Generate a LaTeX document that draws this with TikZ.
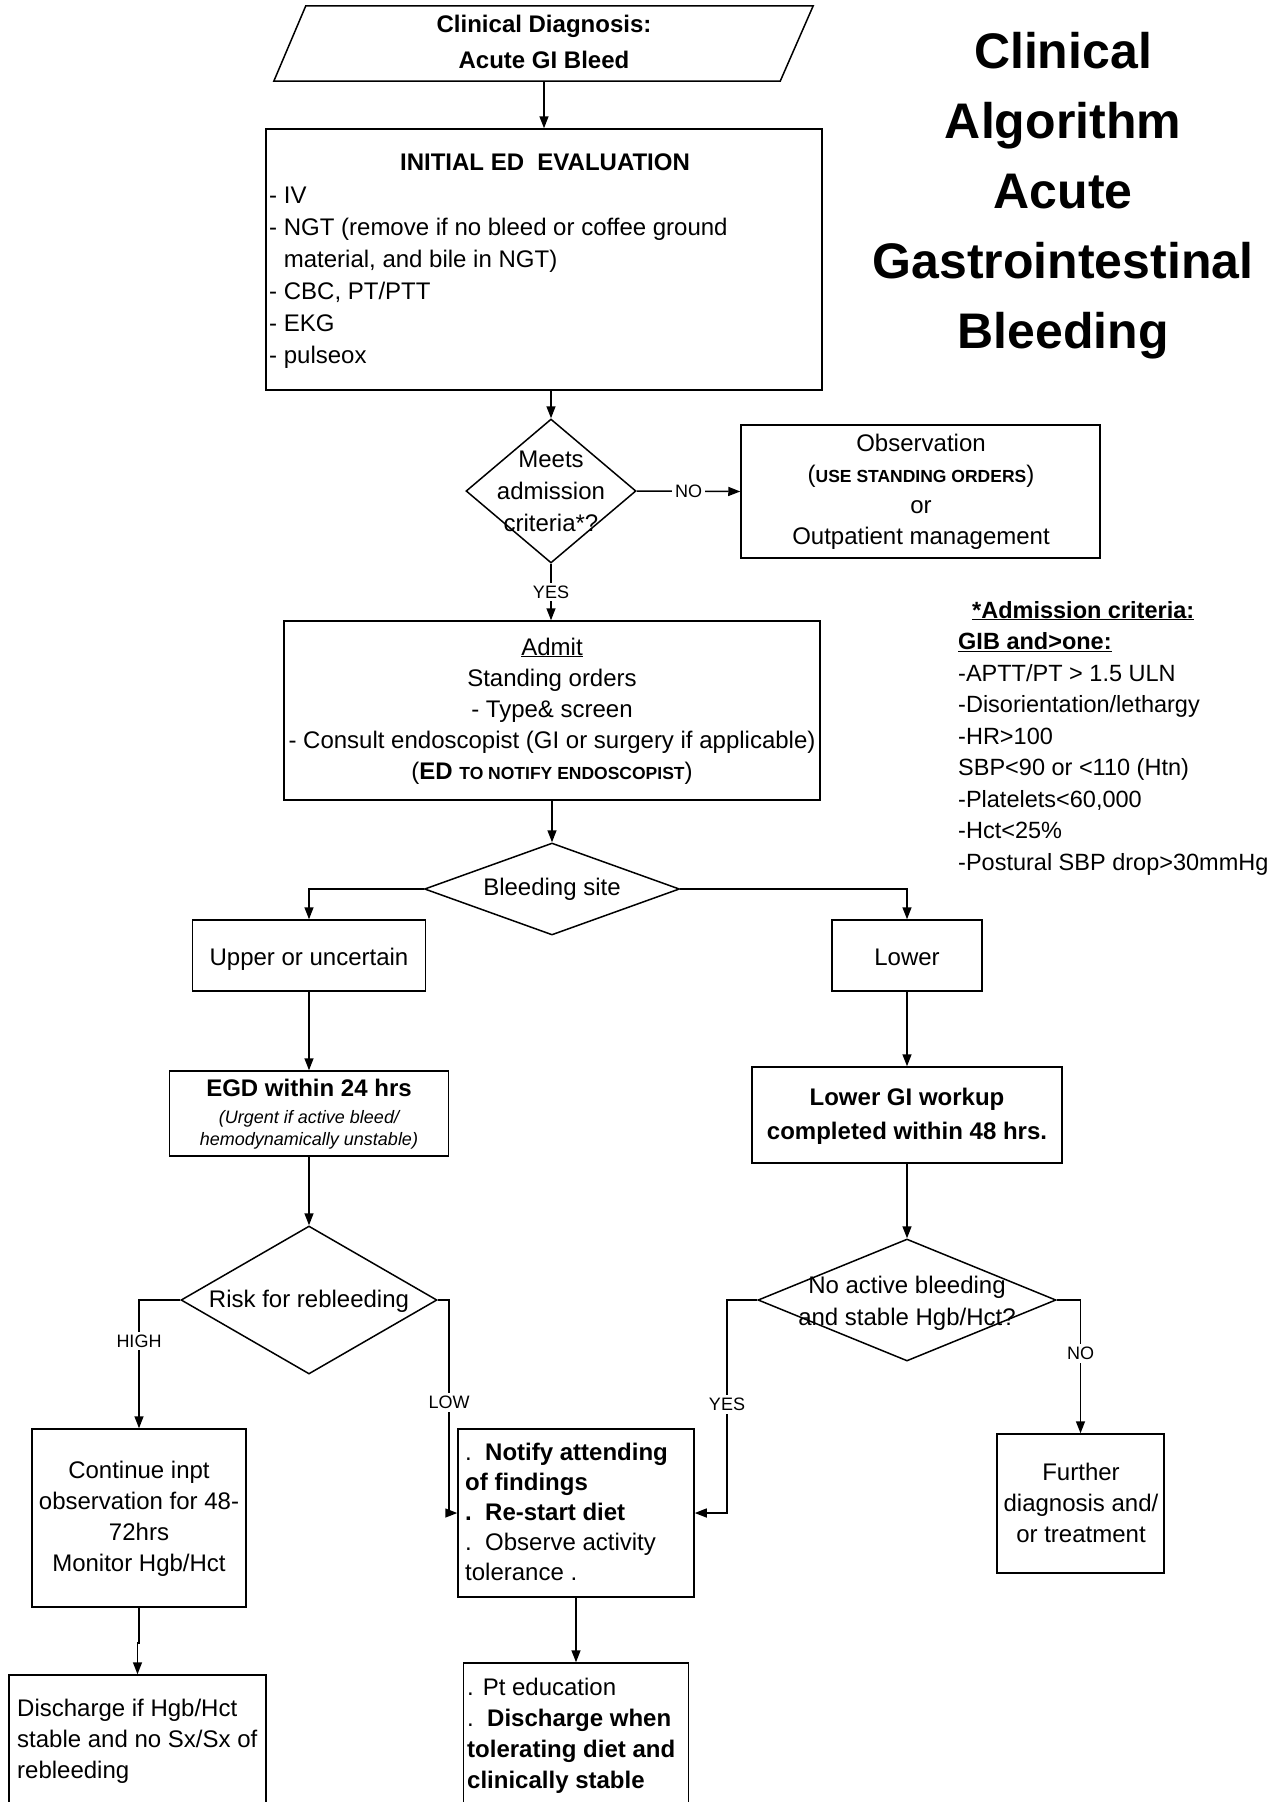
\documentclass[tikz,border=0pt]{standalone}
\usepackage{fontspec}
\setmainfont{Liberation Sans}
\usetikzlibrary{shapes.geometric,arrows.meta,calc}
\begin{document}
\begin{tikzpicture}[x=1pt,y=-1pt,
  bx/.style={draw, rectangle, line width=1.5pt, inner sep=0pt},
  dmd/.style={draw, diamond, line width=1.5pt, inner sep=0pt},
  tc/.style={inner sep=0pt, anchor=base, align=center, font=\fontsize{24}{31}\selectfont},
  tlft/.style={inner sep=0pt, anchor=base west, align=left, font=\fontsize{24}{31}\selectfont},
  lbl/.style={fill=white, inner xsep=3pt, inner ysep=3pt, font=\fontsize{18}{20}\selectfont},
  conn/.style={line width=1.5pt, -{Triangle[length=12pt,width=9pt]}}]
\useasboundingbox (0,0) rectangle (1284,1802);
\fill[white] (0,0) rectangle (1284,1802);
\clip (0,0) rectangle (1284,1802);

% ---------- shapes ----------
\node[minimum width=539pt, minimum height=75pt, inner sep=0pt] (start) at (543.5,43.5) {};
\draw[line width=1.5pt] ($(start.north west)+(32,0)$) -- (start.north east)
  -- ($(start.south east)+(-33,0)$) -- (start.south west) -- cycle;
\node[bx, minimum width=556pt, minimum height=261pt] (init) at (544,259.5) {};
\node[dmd, minimum width=170pt, minimum height=144pt] (meets) at (551,491) {};
\node[bx, minimum width=359pt, minimum height=133pt] (obs) at (920.5,491.5) {};
\node[bx, minimum width=536pt, minimum height=179pt] (admit) at (552,710.5) {};
\node[dmd, minimum width=255pt, minimum height=92pt] (bleed) at (552,889) {};
\node[bx, minimum width=233pt, minimum height=71pt] (upper) at (309,955.5) {};
\node[bx, minimum width=150pt, minimum height=71pt] (lower) at (907,955.5) {};
\node[bx, minimum width=279pt, minimum height=85pt] (egd) at (309,1113.5) {};
\node[bx, minimum width=310pt, minimum height=96pt] (lgi) at (907,1115) {};
\node[dmd, minimum width=256pt, minimum height=148pt] (risk) at (309,1300) {};
\node[dmd, minimum width=298pt, minimum height=122pt] (nab) at (907,1300) {};
\node[bx, minimum width=214pt, minimum height=178pt] (cont) at (139,1518) {};
\node[bx, minimum width=236pt, minimum height=168pt] (notify) at (576,1513) {};
\node[bx, minimum width=167pt, minimum height=139pt] (further) at (1080.5,1503.5) {};
\node[bx, minimum width=257pt, minimum height=155pt] (disc) at (137.5,1752.5) {};
\node[bx, minimum width=225pt, minimum height=167pt] (pt) at (576,1746.5) {};

% ---------- texts (multi-line nodes are placed at the baseline of their last line) ----------
\node[tc, font=\fontsize{24}{36}\selectfont\bfseries] (tstart) at (544,68) {Clinical Diagnosis:\\Acute GI Bleed};
\node[tc, font=\fontsize{50}{70}\selectfont\bfseries] (title) at (1063,348) {Clinical\\Algorithm\\Acute\\Gastrointestinal\\Bleeding};
\node[tc, font=\fontsize{24}{31}\selectfont\bfseries] (tinit) at (545,170) {INITIAL ED\ \ EVALUATION};
\node[tlft, font=\fontsize{24}{32}\selectfont] (tinitl) at (269,363) {- IV\\- NGT (remove if no bleed or coffee ground\\\phantom{- }material, and bile in NGT)\\- CBC, PT/PTT\\- EKG\\- pulseox};
\node[tc, font=\fontsize{24}{32}\selectfont] (tmeets) at (551,531) {Meets\\admission\\criteria*?};
\node[tc] (tobs) at (921,544) {Observation\\({\bfseries\fontsize{17.5}{20}\selectfont USE STANDING ORDERS})\\or\\Outpatient management};
\node[tc] (tadmit) at (552,779) {\underline{Admit}\\Standing orders\\- Type\& screen\\- Consult endoscopist (GI or surgery if applicable)\\(\textbf{ED} {\bfseries\fontsize{17.5}{20}\selectfont TO NOTIFY ENDOSCOPIST})};
\node[tlft, font=\fontsize{23.5}{31.5}\selectfont] (tcrit) at (958,870) {\hspace*{14pt}\textbf{\underline{*Admission criteria:}}\\\textbf{\underline{GIB and>one:}}\\-APTT/PT > 1.5 ULN\\-Disorientation/lethargy\\-HR>100\\SBP<90 or <110 (Htn)\\-Platelets<60,000\\-Hct<25\%\\-Postural SBP drop>30mmHg};
\node[tc] (tbleed) at (552,895) {Bleeding site};
\node[tc] (tupper) at (309,965) {Upper or uncertain};
\node[tc] (tlower) at (907,965) {Lower};
\node[tc, font=\fontsize{24}{31}\selectfont\bfseries] (tegd) at (309,1096) {EGD within 24 hrs};
\node[tc, font=\fontsize{18}{22}\selectfont\itshape] (tegdi) at (309,1145) {(Urgent if active bleed/\\hemodynamically unstable)};
\node[tc, font=\fontsize{24}{34}\selectfont\bfseries] (tlgi) at (907,1139) {Lower GI workup\\completed within 48 hrs.};
\node[tc] (trisk) at (309,1307) {Risk for rebleeding};
\node[tc, font=\fontsize{24}{32}\selectfont] (tnab) at (907,1325) {No active bleeding\\and stable Hgb/Hct?};
\node[tc] (tcont) at (139,1571) {Continue inpt\\observation for 48-\\72hrs\\Monitor Hgb/Hct};
\node[tlft, font=\fontsize{24}{30}\selectfont] (tnotify) at (465,1580) {.\ \ \textbf{Notify attending}\\\textbf{of findings}\\\textbf{.\ \ Re-start diet}\\.\ \ Observe activity\\tolerance .};
\node[tc] (tfur) at (1081,1542) {Further\\diagnosis and/\\or treatment};
\node[tlft] (tdisc) at (17,1778) {Discharge if Hgb/Hct\\stable and no Sx/Sx of\\rebleeding};
\node[tlft] (tpt) at (467,1788) {. Pt education\\.\ \ \textbf{Discharge when}\\\textbf{tolerating diet and}\\\textbf{clinically stable}};

% ---------- connectors ----------
\coordinate (lowc) at (449,1513);
\coordinate (yesc) at (727,1513);
\draw[conn] (start.south -| init.north) -- (init.north);
\draw[conn] (init.south -| meets.north) -- (meets.north);
\draw[conn] (meets.east) -- node[lbl]{NO} (obs.west);
\draw[conn] (meets.south) -- node[lbl]{YES} (admit.north -| meets.south);
\draw[conn] (admit.south) -- (bleed.north);
\draw[conn] (bleed.west) -| (upper.north);
\draw[conn] (bleed.east) -| (lower.north);
\draw[conn] (upper.south) -- (egd.north);
\draw[conn] (lower.south) -- (lgi.north);
\draw[conn] (egd.south) -- (risk.north);
\draw[conn] (lgi.south) -- (nab.north);
\draw[conn] (risk.west) -| node[lbl, pos=0.66]{HIGH} (cont.north);
\draw[conn] (risk.east) -| node[lbl, pos=0.74]{LOW} (lowc) -- (notify.west);
\draw[conn] (nab.west) -| node[lbl, pos=0.745]{YES} (yesc) -- (notify.east);
\draw[conn] (nab.east) -| node[lbl, pos=0.7]{NO} (further.north);
\draw[conn] (notify.south) -- (pt.north);
\draw[conn] (cont.south) -- ++(0,35) -| (disc.north);
\end{tikzpicture}
\end{document}
